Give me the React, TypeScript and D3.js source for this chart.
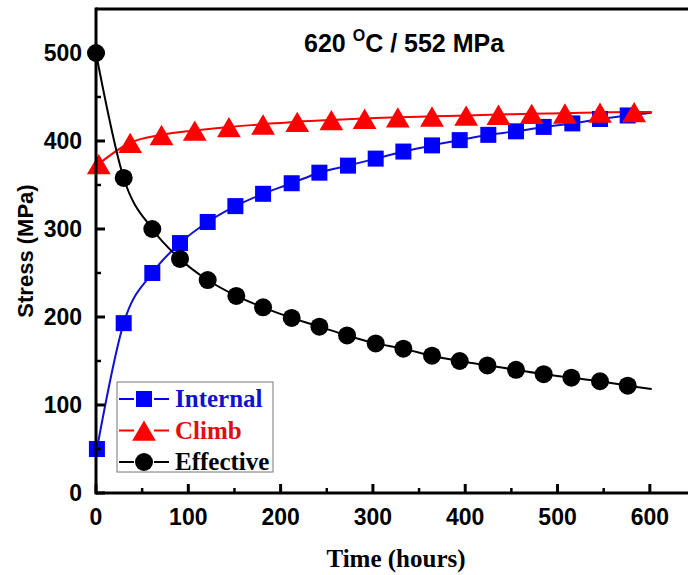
import React from "react";
import * as d3 from "d3";

const internalX = [1, 30, 61, 91, 121, 151, 181, 212, 242, 273, 303, 333, 364, 394, 425, 455, 485, 516, 546, 576];
const internalY = [50, 193, 250, 284, 308, 326, 340, 352, 364, 372, 380, 388, 395, 401, 407, 411, 416, 420, 425, 429];
const climbX = [3, 37, 71, 107, 144, 181, 218, 255, 291, 327, 364, 401, 436, 472, 508, 546, 583];
const climbY = [374, 398, 407, 412, 416, 419, 422, 424, 425.5, 427, 428, 429, 430, 431, 431.5, 432.5, 433];
const effX = [0, 30, 61, 91, 121, 152, 181, 212, 242, 272, 303, 333, 364, 394, 424, 455, 485, 515, 546, 576];
const effY = [500, 358, 300, 266, 242, 224, 211, 199, 189, 179, 170, 164, 156, 150, 145, 140, 135, 131, 127, 122];
// fitted curve end points (x, y)
const fitEndX = 602;
const internalFitEnd = 432;
const climbFitEnd = 433;
const effFitEnd = 118;

const xMajor = [0, 100, 200, 300, 400, 500, 600];
const xMinor = [50, 150, 250, 350, 450, 550];
const yMajor = [0, 100, 200, 300, 400, 500];
const yMinor = [50, 150, 250, 350, 450];

const W = 688, H = 575;
const left = 96, right = 696, top = 9, bottom = 493;

export default function App() {
  const x = d3.scaleLinear().domain([0, 650]).range([left, right]);
  const y = d3.scaleLinear().domain([0, 550]).range([bottom, top]);
  const line = d3.line<[number, number]>().x(d => x(d[0])).y(d => y(d[1])).curve(d3.curveMonotoneX);

  const mk = (xs: number[], ys: number[], endY: number): [number, number][] =>
    [...xs.map((v, i) => [v, ys[i]] as [number, number]), [fitEndX, endY]];

  const sans = "'Liberation Sans', Arial, sans-serif";
  const serif = "'Liberation Serif', 'Times New Roman', serif";
  const blue = "#0000ff";
  const red = "#ff0000";

  const tri = (cx: number, cy: number, s = 11) =>
    `M${cx},${cy - s} L${cx + s * 1.08},${cy + s * 0.85} L${cx - s * 1.08},${cy + s * 0.85} Z`;

  const legendItems = [
    { label: "Internal", color: blue, text: "#1212cc", shape: "sq" },
    { label: "Climb", color: red, text: "#e01010", shape: "tri" },
    { label: "Effective", color: "#000", text: "#000", shape: "circ" },
  ];

  return (
    <svg width={W} height={H} style={{ position: "absolute", left: 0, top: 0, background: "#fff" }}>
      {/* lines */}
      <path d={line(mk(internalX, internalY, internalFitEnd)) || ""} fill="none" stroke="#1010d8" strokeWidth={2} />
      <path d={line(mk(climbX, climbY, climbFitEnd)) || ""} fill="none" stroke={red} strokeWidth={2} />
      <path d={line(mk(effX, effY, effFitEnd)) || ""} fill="none" stroke="#000" strokeWidth={2} />

      {/* markers */}
      {internalX.map((v, i) => (
        <rect key={"s" + i} x={x(v) - 8} y={y(internalY[i]) - 8} width={16} height={16} fill={blue} />
      ))}
      {climbX.map((v, i) => (
        <path key={"t" + i} d={tri(x(v), y(climbY[i]) + 1)} fill={red} />
      ))}
      {effX.map((v, i) => (
        <circle key={"c" + i} cx={x(v)} cy={y(effY[i])} r={9} fill="#000" />
      ))}

      {/* frame */}
      <line x1={left} x2={W} y1={top} y2={top} stroke="#000" strokeWidth={3} />
      <line x1={left} x2={left} y1={top - 1.5} y2={bottom + 1.5} stroke="#000" strokeWidth={3} />
      <line x1={left} x2={W} y1={bottom} y2={bottom} stroke="#000" strokeWidth={3} />

      {/* x ticks */}
      {xMajor.map(v => (
        <g key={"xm" + v}>
          <line x1={x(v)} x2={x(v)} y1={bottom} y2={bottom - 9} stroke="#000" strokeWidth={3} />
          <text x={x(v)} y={525} textAnchor="middle" fontFamily={sans} fontWeight="bold" fontSize={23}>{v}</text>
        </g>
      ))}
      {xMinor.map(v => (
        <line key={"xn" + v} x1={x(v)} x2={x(v)} y1={bottom} y2={bottom - 5} stroke="#000" strokeWidth={2.5} />
      ))}
      {/* y ticks */}
      {yMajor.map(v => (
        <g key={"ym" + v}>
          <line x1={left} x2={left + 9} y1={y(v)} y2={y(v)} stroke="#000" strokeWidth={3} />
          <text x={82} y={y(v) + 8} textAnchor="end" fontFamily={sans} fontWeight="bold" fontSize={23}>{v}</text>
        </g>
      ))}
      {yMinor.map(v => (
        <line key={"yn" + v} x1={left} x2={left + 5} y1={y(v)} y2={y(v)} stroke="#000" strokeWidth={2.5} />
      ))}

      {/* axis titles */}
      <text x={396} y={567} textAnchor="middle" fontFamily={serif} fontWeight="bold" fontSize={25}>Time (hours)</text>
      <text transform={`translate(33,${(top + bottom) / 2}) rotate(-90)`} textAnchor="middle" fontFamily={sans} fontWeight="bold" fontSize={22}>Stress (MPa)</text>

      {/* annotation */}
      <text x={304} y={52} fontFamily={sans} fontWeight="bold" fontSize={25}>
        620 <tspan fontSize={16} dy={-11}>O</tspan><tspan dy={11}>C / 552 MPa</tspan>
      </text>

      {/* legend */}
      <rect x={117} y={382} width={156} height={90} fill="#fff" stroke="#777" strokeWidth={1} />
      {legendItems.map((it, i) => {
        const cy = 399 + i * 31.5;
        const cx = 144;
        return (
          <g key={it.label}>
            <line x1={119} x2={134} y1={cy} y2={cy} stroke={it.color} strokeWidth={2} />
            <line x1={154} x2={169} y1={cy} y2={cy} stroke={it.color} strokeWidth={2} />
            {it.shape === "sq" && <rect x={cx - 8} y={cy - 8} width={16} height={16} fill={it.color} />}
            {it.shape === "tri" && <path d={tri(cx, cy + 1)} fill={it.color} />}
            {it.shape === "circ" && <circle cx={cx} cy={cy} r={9} fill={it.color} />}
            <text x={175} y={cy + 8} fontFamily={serif} fontWeight="bold" fontSize={25} fill={it.text}>{it.label}</text>
          </g>
        );
      })}
    </svg>
  );
}
